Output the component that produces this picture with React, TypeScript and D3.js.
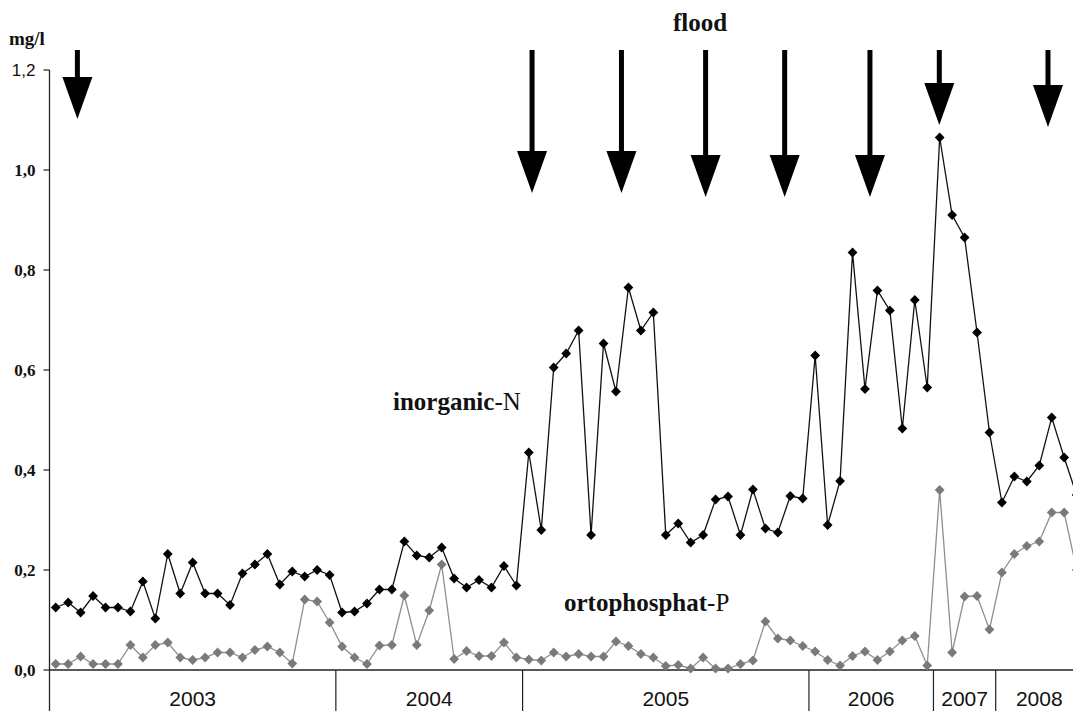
import { useEffect, useRef } from "react";
import * as d3 from "d3";

const years = ["2003", "2004", "2005", "2006", "2007", "2008"];
const samplesPerYear = [23, 15, 23, 10, 5, 7];

const inorganicN = [
  0.125, 0.135, 0.115, 0.148, 0.125, 0.125, 0.117, 0.177, 0.103, 0.232, 0.153, 0.215, 0.153, 0.153, 0.13,
  0.193, 0.211, 0.232, 0.171, 0.197, 0.187, 0.2, 0.19,
  0.115, 0.117, 0.133, 0.161, 0.161, 0.257, 0.229, 0.225, 0.245, 0.183, 0.165, 0.18, 0.165, 0.208, 0.169,
  0.435, 0.28, 0.605, 0.633, 0.679, 0.27, 0.653, 0.557, 0.765, 0.679, 0.715, 0.27, 0.293, 0.255, 0.27,
  0.341, 0.347, 0.27, 0.361, 0.283, 0.275, 0.348, 0.343,
  0.629, 0.29, 0.378, 0.835, 0.562, 0.759, 0.719, 0.483, 0.74, 0.565,
  1.065, 0.91, 0.865, 0.675, 0.475,
  0.335, 0.387, 0.377, 0.409, 0.505, 0.425, 0.35
];

const orthoP = [
  0.012, 0.012, 0.027, 0.012, 0.012, 0.012, 0.05, 0.025, 0.05, 0.055, 0.025, 0.02, 0.025, 0.035, 0.035,
  0.025, 0.04, 0.047, 0.035, 0.013, 0.141, 0.137, 0.095,
  0.047, 0.025, 0.012, 0.049, 0.05, 0.149, 0.05, 0.119, 0.211, 0.022, 0.038, 0.028, 0.028, 0.055, 0.025,
  0.021, 0.019, 0.035, 0.027, 0.032, 0.027, 0.027, 0.057, 0.048, 0.032, 0.025, 0.008, 0.01, 0.003, 0.025,
  0.003, 0.003, 0.012, 0.019, 0.097, 0.063, 0.059, 0.048,
  0.037, 0.02, 0.009, 0.028, 0.037, 0.02, 0.037, 0.059, 0.068, 0.009,
  0.36, 0.035, 0.147, 0.148, 0.081,
  0.195, 0.232, 0.248, 0.257, 0.315, 0.315, 0.2
];

const yTicks = [0, 0.2, 0.4, 0.6, 0.8, 1.0, 1.2];

// flood events: where on the sample axis they fall, and how far down the arrow reaches (mg/l)
const floodAt = [1.74, 38.26, 45.44, 52.2, 58.55, 65.4, 70.97, 79.7];
const floodTip = [1.102, 0.954, 0.954, 0.946, 0.946, 0.946, 1.09, 1.086];

function FloodChart() {
  const ref = useRef<SVGSVGElement | null>(null);

  useEffect(() => {
    if (!ref.current) {
      return;
    }

    const width = 1073;
    const height = 711;
    const left = 49.5;
    const step = 12.45;
    const n = inorganicN.length;

    const svg = d3.select(ref.current);
    svg.selectAll("*").remove();
    svg.attr("viewBox", `0 0 ${width} ${height}`);

    svg.append("rect").attr("width", width).attr("height", height).attr("fill", "white");

    const x = d3
      .scaleBand<number>()
      .domain(d3.range(n))
      .range([left, left + n * step]);
    const cx = (i: number) => (x(i) ?? 0) + x.bandwidth() / 2;
    const pos = d3
      .scaleLinear()
      .domain([0, n - 1])
      .range([cx(0), cx(n - 1)]);
    const y = d3.scaleLinear().domain([0, 1.2]).range([670, 70]);

    // axes
    svg
      .append("line")
      .attr("x1", left)
      .attr("x2", left)
      .attr("y1", y(1.2))
      .attr("y2", height)
      .attr("stroke", "#222")
      .attr("stroke-width", 1.3);
    svg
      .append("line")
      .attr("x1", left)
      .attr("x2", width)
      .attr("y1", y(0))
      .attr("y2", y(0))
      .attr("stroke", "#222")
      .attr("stroke-width", 1.3);

    const ticks = svg.append("g");
    ticks
      .selectAll("line")
      .data(yTicks)
      .join("line")
      .attr("x1", left - 6)
      .attr("x2", left)
      .attr("y1", (d) => y(d))
      .attr("y2", (d) => y(d))
      .attr("stroke", "#222")
      .attr("stroke-width", 1.2);
    ticks
      .selectAll("text")
      .data(yTicks)
      .join("text")
      .attr("x", left - 14)
      .attr("y", (d) => y(d) + 6)
      .attr("text-anchor", "end")
      .attr("fill", "#111")
      .style("font-family", (d) => (d === 1.2 ? "'Liberation Sans', Arial, sans-serif" : "'Liberation Serif', 'Times New Roman', serif"))
      .style("font-weight", (d) => (d === 1.2 ? "400" : "700"))
      .style("font-size", "17px")
      .text((d) => d3.format(".1f")(d).replace(".", ","));

    svg
      .append("text")
      .attr("x", 9)
      .attr("y", 45)
      .attr("fill", "#111")
      .style("font-family", "'Liberation Serif', serif")
      .style("font-weight", "700")
      .style("font-size", "19px")
      .text("mg/l");

    // year blocks on the category axis
    const bounds = Array.from(d3.cumsum(samplesPerYear));
    const starts = [0, ...bounds.slice(0, -1)];
    svg
      .append("g")
      .selectAll("line")
      .data(bounds.slice(0, -1))
      .join("line")
      .attr("x1", (d) => x(d) ?? 0)
      .attr("x2", (d) => x(d) ?? 0)
      .attr("y1", y(0))
      .attr("y2", height)
      .attr("stroke", "#222")
      .attr("stroke-width", 1.2);
    svg
      .append("g")
      .selectAll("text")
      .data(years)
      .join("text")
      .attr("x", (d, i) => left + (starts[i] + samplesPerYear[i] / 2) * step)
      .attr("y", 706)
      .attr("text-anchor", "middle")
      .attr("fill", "#111")
      .style("font-family", "'Liberation Sans', Arial, sans-serif")
      .style("font-size", "21px")
      .text((d) => d);

    // series
    const line = d3
      .line<number>()
      .x((d, i) => cx(i))
      .y((d) => y(d));
    const diamond = d3.symbol(d3.symbolSquare, 48);

    const series = [
      { values: orthoP, line: "#8f8f8f", marker: "#7a7a7a" },
      { values: inorganicN, line: "#111", marker: "#000" }
    ];
    series.forEach((s) => {
      svg
        .append("path")
        .datum(s.values)
        .attr("fill", "none")
        .attr("stroke", s.line)
        .attr("stroke-width", 1.3)
        .attr("d", line);
      svg
        .append("g")
        .selectAll("path")
        .data(s.values)
        .join("path")
        .attr("d", diamond)
        .attr("transform", (d, i) => `translate(${cx(i)},${y(d)}) rotate(45)`)
        .attr("fill", s.marker);
    });

    // flood arrows
    const arrows = svg.append("g");
    floodAt.forEach((at, i) => {
      const ax = pos(at);
      const tip = y(floodTip[i]);
      const headTop = tip - 42;
      arrows
        .append("rect")
        .attr("x", ax - 2.5)
        .attr("y", y(1.24))
        .attr("width", 5)
        .attr("height", headTop - y(1.24) + 1)
        .attr("fill", "#000");
      arrows
        .append("path")
        .attr("d", `M${ax - 15},${headTop}L${ax + 15},${headTop}L${ax},${tip}Z`)
        .attr("fill", "#000");
    });

    const labels = [
      { text: "flood", tail: "", x: 673, y: 31 },
      { text: "inorganic", tail: "-N", x: 393, y: 410 },
      { text: "ortophosphat", tail: "-P", x: 564, y: 611 }
    ];
    labels.forEach((l) => {
      const t = svg
        .append("text")
        .attr("x", l.x)
        .attr("y", l.y)
        .attr("fill", "#111")
        .style("font-family", "'Liberation Serif', 'Times New Roman', serif")
        .style("font-size", "25px");
      t.append("tspan").style("font-weight", "700").text(l.text);
      if (l.tail) {
        t.append("tspan").style("font-weight", "400").text(l.tail);
      }
    });
  }, []);

  return (
    <svg
      ref={ref}
      width={1073}
      height={711}
      style={{ position: "absolute", left: 0, top: 0, display: "block" }}
      role="img"
      aria-label="Inorganic N and orthophosphate P with flood events"
    />
  );
}

export default function App() {
  return <FloodChart />;
}
